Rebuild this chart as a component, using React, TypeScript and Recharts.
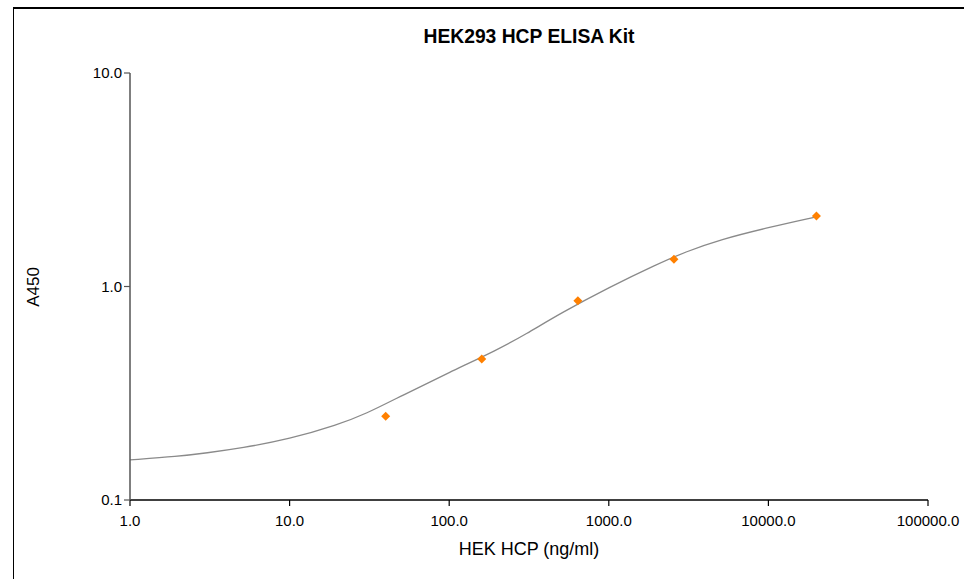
import React from "react";
import { ComposedChart, XAxis, YAxis, Line, Scatter } from "recharts";

// standards (ng/ml) and measured A450
const stdConc = [40, 160, 640, 2560, 20000];
const stdA450 = [0.247, 0.457, 0.857, 1.34, 2.14];

// fitted curve
const fitConc = [1, 2, 3, 5, 10, 20, 30, 50, 100, 200, 300, 500, 1000, 2000, 3000, 5000, 10000, 20000];
const fitA450 = [0.154, 0.16, 0.166, 0.175, 0.193, 0.225, 0.253, 0.307, 0.396, 0.505, 0.596, 0.75, 0.99, 1.27, 1.45, 1.66, 1.89, 2.12];

const xTicks = [1, 10, 100, 1000, 10000, 100000];
const yTicks = [0.1, 1, 10];

const title = "HEK293 HCP ELISA Kit";
const xLabel = "HEK HCP (ng/ml)";
const yLabel = "A450";

const points = stdConc.map((x, i) => ({ x, y: stdA450[i] }));
const curve = fitConc.map((x, i) => ({ x, y: fitA450[i] }));

const FONT = '"Liberation Sans", Arial, Helvetica, sans-serif';

const Diamond = (props: any) => {
  const { cx, cy } = props;
  const r = 4.5;
  return (
    <polygon
      points={`${cx},${cy - r} ${cx + r},${cy} ${cx},${cy + r} ${cx - r},${cy}`}
      fill="#ff8000"
    />
  );
};

export default function App() {
  return (
    <div
      style={{
        position: "fixed",
        left: 0,
        top: 0,
        width: 964,
        height: 579,
        overflow: "hidden",
        fontFamily: FONT,
        background: "#fff",
      }}
    >
      <style>{"html,body{overflow:hidden;margin:0} .recharts-surface,.recharts-wrapper{overflow:visible !important}"}</style>
      {/* frame: top and left rules */}
      <div style={{ position: "absolute", left: 13, top: 7, right: 0, height: 2, background: "#000" }} />
      <div style={{ position: "absolute", left: 13, top: 7, bottom: 0, width: 1, background: "#000" }} />
      <div
        style={{
          position: "absolute",
          left: 529,
          top: 27,
          transform: "translateX(-50%)",
          fontSize: 19.3,
          lineHeight: "20px",
          fontWeight: "bold",
          whiteSpace: "nowrap",
          color: "#000",
        }}
      >
        {title}
      </div>
      <div style={{ position: "absolute", left: 14, top: 9 }}>
        <ComposedChart
          width={950}
          height={560}
          margin={{ top: 64, right: 36, bottom: 39, left: 0 }}
        >
          <XAxis
            dataKey="x"
            type="number"
            scale="log"
            domain={[1, 100000]}
            ticks={xTicks}
            allowDataOverflow
            height={30}
            tickSize={6}
            tickMargin={9}
            tickFormatter={(v) => Number(v).toFixed(1)}
            tick={{ fill: "#000", fontSize: 15, fontFamily: FONT }}
            axisLine={{ stroke: "#000", strokeWidth: 1.5 }}
            tickLine={{ stroke: "#000", strokeWidth: 1.2 }}
          />
          <YAxis
            dataKey="y"
            type="number"
            scale="log"
            domain={[0.1, 10]}
            ticks={yTicks}
            allowDataOverflow
            width={116}
            tickSize={6}
            tickMargin={2}
            tickFormatter={(v) => Number(v).toFixed(1)}
            tick={{ fill: "#000", fontSize: 15, fontFamily: FONT }}
            axisLine={{ stroke: "#555", strokeWidth: 1.5 }}
            tickLine={{ stroke: "#555", strokeWidth: 1.2 }}
          />
          <Line
            data={curve}
            dataKey="y"
            type="basis"
            stroke="#8a8a8a"
            strokeWidth={1.3}
            dot={false}
            activeDot={false}
            isAnimationActive={false}
          />
          <Scatter data={points} dataKey="y" shape={Diamond} isAnimationActive={false} />
        </ComposedChart>
      </div>
      <div
        style={{
          position: "absolute",
          left: 529,
          top: 540,
          transform: "translateX(-50%)",
          fontSize: 18,
          lineHeight: 1,
          whiteSpace: "nowrap",
          color: "#000",
        }}
      >
        {xLabel}
      </div>
      <div
        style={{
          position: "absolute",
          left: 33,
          top: 287,
          transform: "translate(-50%, -50%) rotate(-90deg)",
          fontSize: 17,
          lineHeight: 1,
          whiteSpace: "nowrap",
          color: "#000",
        }}
      >
        {yLabel}
      </div>
    </div>
  );
}
